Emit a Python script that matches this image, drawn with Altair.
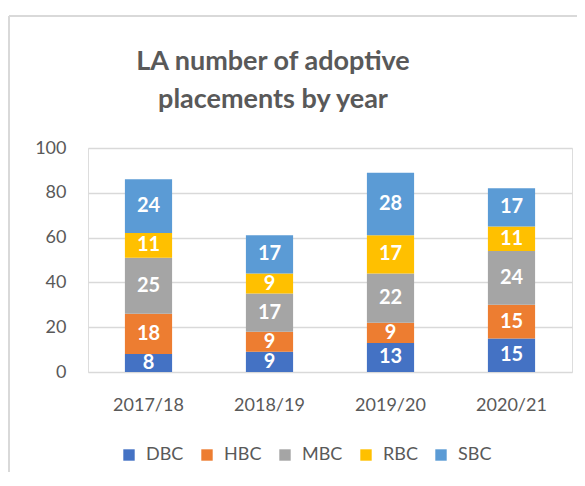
import altair as alt
import pandas as pd

years = ["2017/18", "2018/19", "2019/20", "2020/21"]
series = ["DBC", "HBC", "MBC", "RBC", "SBC"]
dbc = [8, 9, 13, 15]
hbc = [18, 9, 9, 15]
mbc = [25, 17, 22, 24]
rbc = [11, 9, 17, 11]
sbc = [24, 17, 28, 17]
colors = ["#4472C4", "#ED7D31", "#A5A5A5", "#FFC000", "#5B9BD5"]
title_lines = ["LA number of adoptive", "placements by year"]

rows = []
for si, (name, vals) in enumerate(zip(series, [dbc, hbc, mbc, rbc, sbc])):
    for y, v in zip(years, vals):
        rows.append({"year": y, "series": name, "value": v, "order": si})
df = pd.DataFrame(rows)

FONT = "Lato"

base = alt.Chart(df).transform_stack(
    stack="value", groupby=["year"], as_=["y0", "y1"], sort=[alt.SortField("order")]
).transform_calculate(mid="(datum.y0 + datum.y1) / 2")

x = alt.X("year:N", sort=years, title=None,
          scale=alt.Scale(paddingInner=0.61, paddingOuter=0.305),
          axis=alt.Axis(labelAngle=0, labelFontSize=18, labelColor="#595959",
                        labelFont=FONT, ticks=False, domain=False, labelPadding=24))

bars = base.mark_bar().encode(
    x=x,
    y=alt.Y("y0:Q", title=None, scale=alt.Scale(domain=[0, 100]),
            axis=alt.Axis(values=[0, 20, 40, 60, 80, 100], labelFontSize=18,
                          labelColor="#595959", labelFont=FONT, ticks=False,
                          domain=False, labelPadding=22, gridColor="#D9D9D9",
                          gridWidth=1.5)),
    y2="y1:Q",
    color=alt.Color("series:N", sort=series,
                    scale=alt.Scale(domain=series, range=colors),
                    legend=alt.Legend(title=None, orient="none", direction="horizontal",
                                      legendX=32, legendY=298, symbolType="square",
                                      symbolSize=130, symbolStrokeWidth=0,
                                      labelFontSize=18, labelColor="#595959",
                                      labelFont=FONT, columnPadding=14,
                                      labelOffset=8)),
    order=alt.Order("order:Q"),
)

labels = base.mark_text(color="white", fontSize=20, fontWeight="bold", font=FONT,
                        baseline="middle").encode(
    x=alt.X("year:N", sort=years),
    y=alt.Y("mid:Q"),
    text=alt.Text("value:Q"),
)

one = pd.DataFrame({"a": [0]})
title1 = alt.Chart(one).mark_text(
    fontSize=27, fontWeight="bold", font=FONT, color="#595959",
    align="center", baseline="middle").encode(
    x=alt.value(185), y=alt.value(-86), text=alt.value(title_lines[0]))
title2 = alt.Chart(one).mark_text(
    fontSize=27, fontWeight="bold", font=FONT, color="#595959",
    align="center", baseline="middle").encode(
    x=alt.value(185), y=alt.value(-48), text=alt.value(title_lines[1]))

frame_left = alt.Chart(one).mark_rule(
    color="#D9D9D9", strokeWidth=2).encode(
    x=alt.value(-79), x2=alt.value(-79), y=alt.value(-132), y2=alt.value(345))
frame_top = alt.Chart(one).mark_rule(
    color="#D9D9D9", strokeWidth=2).encode(
    x=alt.value(-79), x2=alt.value(505), y=alt.value(-132), y2=alt.value(-132))

chart = alt.layer(bars, labels, title1, title2, frame_left, frame_top).properties(
    width=484, height=224,
    autosize=alt.AutoSizeParams(type="none"),
    padding={"left": 80, "top": 140, "right": 5, "bottom": 100},
).configure_view(stroke=None).configure(background="white")

chart.save("out.html", embed_options={"renderer": "svg", "actions": False})
